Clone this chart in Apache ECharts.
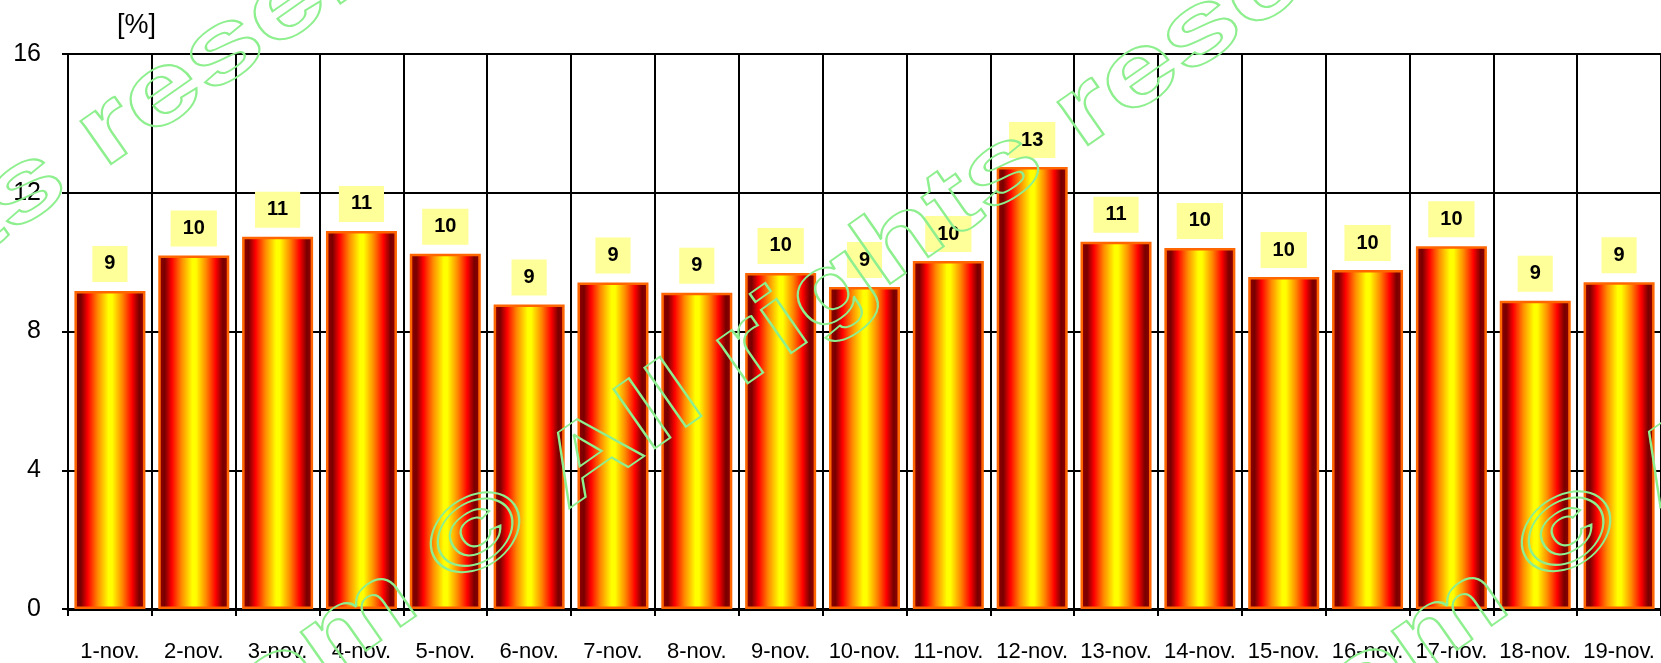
<!DOCTYPE html>
<html>
<head>
<meta charset="utf-8">
<script src="https://cdn.jsdelivr.net/npm/echarts@6/dist/echarts.min.js"></script>
<style>
  html, body { margin: 0; padding: 0; background: #ffffff; }
  #chart { width: 1661px; height: 663px; }
</style>
</head>
<body>
<div id="chart"></div>
<script>
const categories = ['1-nov.', '2-nov.', '3-nov.', '4-nov.', '5-nov.', '6-nov.', '7-nov.', '8-nov.', '9-nov.', '10-nov.',
  '11-nov.', '12-nov.', '13-nov.', '14-nov.', '15-nov.', '16-nov.', '17-nov.', '18-nov.', '19-nov.'];
const values = [9.17, 10.19, 10.73, 10.90, 10.24, 8.78, 9.41, 9.12, 9.69, 9.28,
  10.03, 12.74, 10.59, 10.41, 9.57, 9.77, 10.46, 8.89, 9.42];
const yTicks = [0, 4, 8, 12, 16];
const unitLabel = '[%]';
const watermarkText = 'om \u00a9 All rights reserved';

const FONT = '"Liberation Sans", Arial, sans-serif';
const chart = echarts.init(document.getElementById('chart'), null, { renderer: 'canvas' });

const barGradient = new echarts.graphic.LinearGradient(0, 0, 1, 0, [
  { offset: 0.00, color: '#990000' },
  { offset: 0.09, color: '#780000' },
  { offset: 0.19, color: '#ff0000' },
  { offset: 0.33, color: '#ff8c00' },
  { offset: 0.48, color: '#ffff00' },
  { offset: 0.53, color: '#ffff00' },
  { offset: 0.67, color: '#ff8c00' },
  { offset: 0.81, color: '#ff0000' },
  { offset: 0.91, color: '#780000' },
  { offset: 1.00, color: '#990000' }
]);

// watermark: outlined, horizontally stretched text, anchored at the centre of the "©"
const WM_SIZE = 100;
const wmStyle = {
  text: watermarkText,
  x: -2.1465 * WM_SIZE,
  y: 0,
  fontSize: WM_SIZE,
  fontWeight: 'bold',
  fontFamily: FONT,
  fill: 'none',
  stroke: '#8eef8e',
  lineWidth: 1.8,
  align: 'left',
  verticalAlign: 'middle'
};
const wmRot = 35 * Math.PI / 180;
function wm(x, y) {
  return { type: 'text', x: x, y: y, rotation: wmRot, scaleX: 1.36, scaleY: 1, z: 100, silent: true,
    style: Object.assign({}, wmStyle) };
}

chart.setOption({
  animation: false,
  backgroundColor: '#ffffff',
  title: {
    text: unitLabel,
    left: 112,
    top: 7,
    textStyle: { fontFamily: FONT, fontSize: 27, fontWeight: 'normal', color: '#000' }
  },
  grid: { left: 68, top: 54, right: -3, bottom: 54, containLabel: false },
  xAxis: {
    type: 'category',
    data: categories,
    boundaryGap: true,
    axisLine: { show: true, lineStyle: { color: '#000', width: 3 } },
    axisTick: { show: true, alignWithLabel: false, interval: 0, length: 7, lineStyle: { color: '#000', width: 2 } },
    axisLabel: { interval: 0, margin: 32, fontFamily: FONT, fontSize: 22, color: '#000' },
    splitLine: { show: true, interval: 0, lineStyle: { color: '#000', width: 2 } }
  },
  yAxis: {
    type: 'value',
    min: yTicks[0],
    max: yTicks[yTicks.length - 1],
    interval: yTicks[1] - yTicks[0],
    axisLine: { show: true, lineStyle: { color: '#000', width: 2 } },
    axisTick: { show: true, length: 6, lineStyle: { color: '#000', width: 2 } },
    axisLabel: { margin: 27, fontFamily: FONT, fontSize: 25, color: '#000' },
    splitLine: { show: true, lineStyle: { color: '#000', width: 2 } }
  },
  series: [{
    type: 'bar',
    data: values,
    barWidth: 71,
    itemStyle: { color: barGradient, borderColor: '#ff6600', borderWidth: 2.5 },
    label: {
      show: true,
      position: 'top',
      distance: 9,
      formatter: p => String(Math.round(p.value)),
      fontFamily: FONT,
      fontSize: 20,
      fontWeight: 'bold',
      color: '#000',
      backgroundColor: '#ffff99',
      padding: [8, 12],
      lineHeight: 20
    }
  }],
  graphic: [
    wm(-498, 557),
    wm(479, 538),
    wm(1570, 537)
  ]
});
</script>
</body>
</html>
